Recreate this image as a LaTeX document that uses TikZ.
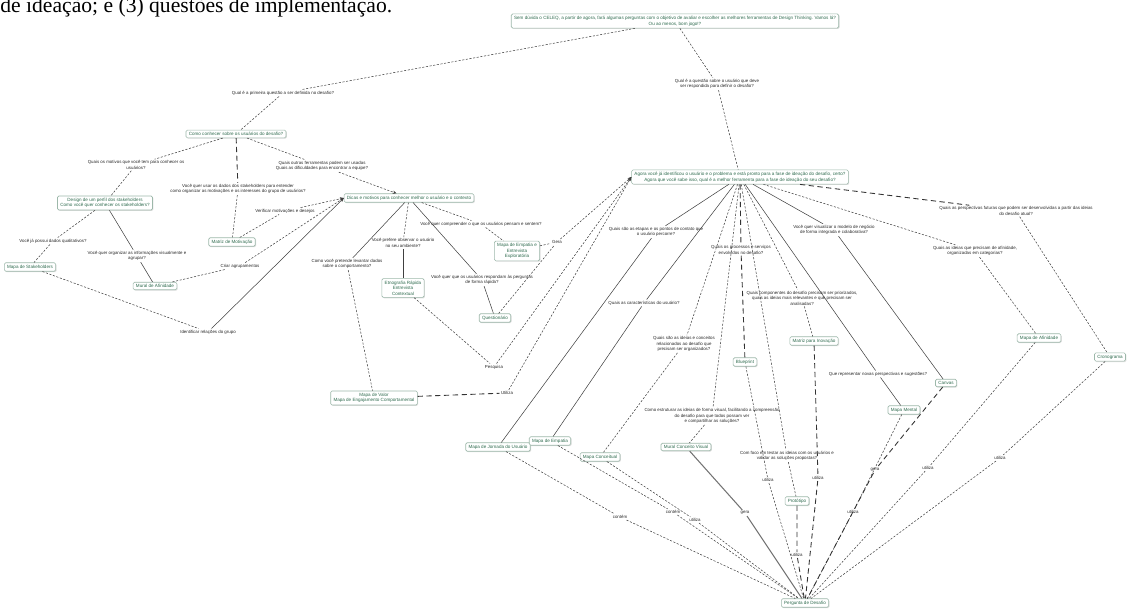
\documentclass[tikz,border=0pt]{standalone}
\usepackage{fontspec}
\usetikzlibrary{shadows,arrows.meta}
\newfontfamily\sfn{Liberation Sans}
\newfontfamily\serifn{Liberation Serif}
\definecolor{cborder}{HTML}{9DB8AA}
\definecolor{ctext}{HTML}{2E6B4E}
\begin{document}
\begin{tikzpicture}[x=0.02cm,y=-0.02cm,
 concept/.style={draw=cborder, fill=white, rounded corners=0.8pt, line width=0.35pt, text=ctext,
   font=\sfn\fontsize{2.6}{3.2}\selectfont, align=center, inner xsep=1.6pt, inner ysep=1.2pt,
   drop shadow={shadow xshift=0.5pt, shadow yshift=-0.5pt, fill=black!25}},
 lab/.style={font=\sfn\fontsize{2.5}{3.1}\selectfont, align=center, inner sep=0.6pt, text=black!85},
 dl/.style={draw=black!75, line width=0.3pt, dash pattern=on 1.2pt off 0.9pt},
 sl/.style={draw=black!75, line width=0.3pt},
 ll/.style={draw=black!80, line width=0.5pt, dash pattern=on 3pt off 2pt},
 arr/.style={-{Stealth[length=2.2pt,width=1.8pt]}}]
\useasboundingbox (0,0) rectangle (1135,614);
\begin{scope}
\clip (0,0) rectangle (1135,614);
\node[anchor=base west, inner sep=0, font=\serifn\fontsize{12.3}{14}\selectfont] (toptext) at (0,12.5) {de ideação; e (3) questões de implementação.};
\end{scope}

% ---------- concepts ----------
\node[concept] (root) at (675,21) {Sem dúvida o CELEQ, a partir de agora, fará algumas perguntas com o objetivo de avaliar e escolher as melhores ferramentas de Design Thinking. Vamos lá?\\Ou ao menos, bom jogo!?};
\node[concept] (A) at (236,134) {Como conhecer sobre os usuários do desafio?};
\node[concept] (B) at (105,203) {Design de um perfil dos stakeholders\\Como você quer conhecer os stakeholders?};
\node[concept] (C) at (30,267) {Mapa de Stakeholders};
\node[concept] (D) at (155,286) {Mural de Afinidade};
\node[concept] (F) at (232,242) {Matriz de Motivação};
\node[concept] (E) at (409,198) {Dicas e motivos para conhecer melhor o usuário e o contexto};
\node[concept] (G) at (374,398) {Mapa de Valor\\Mapa de Engajamento Comportamental};
\node[concept] (H) at (403,288) {Etnografia Rápida\\Entrevista\\Contextual};
\node[concept] (I) at (495,318) {Questionário};
\node[concept] (J) at (517,251) {Mapa de Empatia e\\Entrevista\\Exploratória};
\node[concept] (K) at (740,177) {Agora você já identificou o usuário e o problema e está pronto para a fase de ideação do desafio, certo?\\Agora que você sabe isso, qual é a melhor ferramenta para a fase de ideação do seu desafio?};
\node[concept] (N1) at (498,447) {Mapa de Jornada do Usuário};
\node[concept] (N2) at (550,441) {Mapa de Empatia};
\node[concept] (N3) at (600,457) {Mapa Conceitual};
\node[concept] (N4) at (686,447) {Mural Conceito Visual};
\node[concept] (N5) at (745,362) {Blueprint};
\node[concept] (N6) at (797,501) {Protótipo};
\node[concept] (N7) at (814,341) {Matriz para Inovação};
\node[concept] (N8) at (946,383) {Canvas};
\node[concept] (N11) at (904,410) {Mapa Mental};
\node[concept] (N9) at (1039,338) {Mapa de Afinidade};
\node[concept] (N10) at (1110,357) {Cronograma};
\node[concept] (Z) at (805,603) {Pergunta de Desafio};

% ---------- linking phrases ----------
\node[lab] (lA) at (283,93) {Qual é a primeira questão a ser definida no desafio?};
\node[lab] (lK) at (717,84) {Qual é a questão sobre o usuário que deve\\ser respondida para definir o desafio?};
\node[lab] (lB) at (136,165) {Quais os motivos que você tem para conhecer os\\usuários?};
\node[lab] (lC) at (53,241) {Você já possui dados qualitativos?};
\node[lab] (lD) at (137,256) {Você quer organizar as informações visualmente e\\agrupar?};
\node[lab] (lF) at (238,189) {Você quer usar os dados dos stakeholders para entender\\como organizar as motivações e os interesses do grupo de usuários?};
\node[lab] (lAE) at (322,166) {Quais outras ferramentas podem ser usadas\\Quais as dificuldades para encontrar a equipe?};
\node[lab] (lFE) at (285,211) {Verificar motivações e desejos};
\node[lab] (lDE) at (240,266) {Criar agrupamentos};
\node[lab] (lCE) at (208,332) {Identificar relações do grupo};
\node[lab] (lG) at (347,264) {Como você pretende levantar dados\\sobre o comportamento?};
\node[lab] (lH) at (403,243) {Você prefere observar o usuário\\no seu ambiente?};
\node[lab] (lI) at (482,280) {Você quer que os usuários respondam às perguntas\\de forma rápida?};
\node[lab] (lJ) at (481,224) {Você quer compreender o que os usuários pensam e sentem?};
\node[lab] (lHK) at (494,367) {Pesquisa};
\node[lab] (lGK) at (507,393) {Utiliza};
\node[lab] (lJK) at (557,242) {Gera};
\node[lab] (l1) at (656,232) {Quais são as etapas e os pontos de contato que\\o usuário percorre?};
\node[lab] (l2) at (644,303) {Quais as características do usuário?};
\node[lab] (l3) at (684,344) {Quais são as ideias e conceitos\\relacionados ao desafio que\\precisam ser organizados?};
\node[lab] (l4) at (741,250) {Quais os processos e serviços\\envolvidos no desafio?};
\node[lab] (l5) at (712,416) {Como estruturar as ideias de forma visual, facilitando a compreensão\\do desafio para que todos possam ver\\e compartilhar as soluções?};
\node[lab] (l6) at (802,298) {Quais componentes do desafio precisam ser priorizados,\\quais as ideias mais relevantes e que precisam ser\\analisadas?};
\node[lab] (l7) at (834,230) {Você quer visualizar o modelo de negócio\\de forma integrada e colaborativa?};
\node[lab] (l8) at (975,251) {Quais as ideias que precisam de afinidade,\\organizadas em categorias?};
\node[lab] (l9) at (1016,211) {Quais as perspectivas futuras que podem ser desenvolvidas a partir das ideias\\do desafio atual?};
\node[lab] (l10) at (878,374) {Que representar novas perspectivas e sugestões?};
\node[lab] (l11) at (787,456) {Com foco em testar as ideias com os usuários e\\validar as soluções propostas?};
\node[lab] (z1) at (620,517) {contém};
\node[lab] (z2) at (673,512) {contém};
\node[lab] (z3) at (695,520) {utiliza};
\node[lab] (z4) at (745,513) {gera};
\node[lab] (z5) at (768,480) {utiliza};
\node[lab] (z6) at (797,555) {utiliza};
\node[lab] (z7) at (818,478) {utiliza};
\node[lab] (z8) at (853,512) {utiliza};
\node[lab] (z9) at (875,470) {gera};
\node[lab] (z10) at (928,468) {utiliza};
\node[lab] (z11) at (1000,458) {utiliza};

% ---------- connectors ----------
\draw[dl] (root) -- (lA) -- (A);
\draw[dl] (root) -- (lK) -- (K);
\draw[dl] (A) -- (lB) -- (B);
\draw[ll] (A) -- (lF);
\draw[dl] (lF) -- (F);
\draw[dl] (A) -- (lAE);
\draw[dl,arr] (lAE) -- (E);
\draw[dl] (B) -- (lC) -- (C);
\draw[sl] (B) -- (lD) -- (D);
\draw[dl] (C) -- (lCE);
\draw[sl,arr] (lCE) -- (E.west);
\draw[dl] (D) -- (lDE);
\draw[dl,arr] (lDE) -- (E.west);
\draw[dl] (F) -- (lFE);
\draw[dl,arr] (lFE) -- (E.west);
\draw[sl] (E) -- (lG);
\draw[dl] (lG) -- (G);
\draw[dl] (E) -- (lH);
\draw[sl] (lH) -- (H);
\draw[sl] (E) -- (lI) -- (I);
\draw[dl] (E) -- (lJ) -- (J);
\draw[dl] (H) -- (lHK);
\draw[dl,arr] (lHK) -- (K.west);
\draw[ll] (G) -- (lGK);
\draw[dl,arr] (lGK) -- (K.west);
\draw[dl] (J) -- (lJK);
\draw[dl] (I) -- (lJK);
\draw[dl,arr] (lJK) -- (K.west);

\draw[sl] (K) -- (l1) -- (N1);
\draw[sl] (K) -- (l2) -- (N2);
\draw[dl] (K) -- (l3) -- (N3);
\draw[ll] (K) -- (l4) -- (N5);
\draw[dl] (K) -- (l5) -- (N4);
\draw[dl] (K) -- (l6) -- (N7);
\draw[sl] (K) -- (l7) -- (N8);
\draw[dl] (K) -- (l8) -- (N9);
\draw[ll] (K) -- (l9);
\draw[dl] (l9) -- (N10);
\draw[sl] (K) -- (l10) -- (N11);
\draw[dl] (K) -- (l11) -- (N6);

\draw[dl] (N1) -- (z1) -- (Z);
\draw[dl] (N2) -- (z2) -- (Z);
\draw[dl] (N3) -- (z3) -- (Z);
\draw[sl,line width=0.6pt,black!55] (N4) -- (z4) -- (Z);
\draw[dl] (N5) -- (z5) -- (Z);
\draw[ll] (N6) -- (z6) -- (Z);
\draw[ll] (N7) -- (z7) -- (Z);
\draw[dl] (N11) -- (z8) -- (Z);
\draw[ll] (N8) -- (z9) -- (Z);
\draw[dl] (N9) -- (z10) -- (Z);
\draw[dl] (N10) -- (z11) -- (Z);
\end{tikzpicture}
\end{document}
